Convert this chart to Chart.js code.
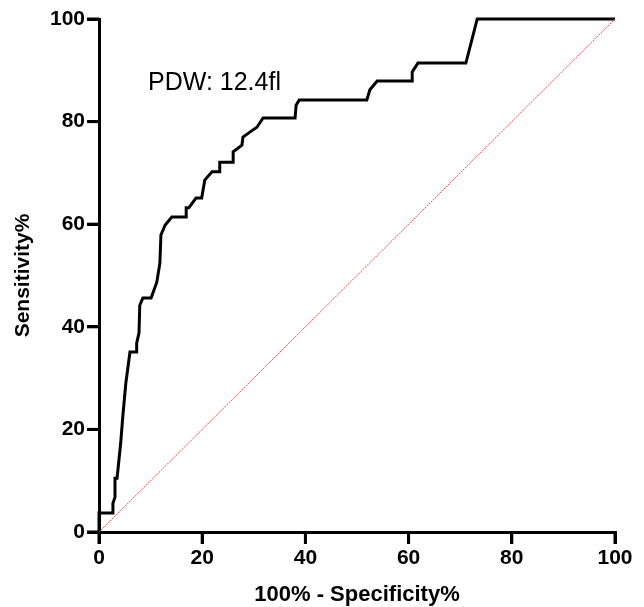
<!DOCTYPE html>
<html>
<head>
<meta charset="utf-8">
<script src="https://cdn.jsdelivr.net/npm/chart.js@4.4.1/dist/chart.umd.min.js"></script>
<style>
  html, body { margin: 0; padding: 0; background: #fff; }
  #roc { display: block; }
</style>
</head>
<body>
<canvas id="roc" width="644" height="607"></canvas>
<script>
// ROC curve (100% - specificity, sensitivity)
const fpr = [0, 0, 2.7, 2.7, 3.1, 3.1, 3.5, 4.2, 4.6, 5.2,
    6.0, 7.3, 7.3, 7.75, 7.9, 8.5, 10.1, 11.2, 11.8, 12.0,
    12.8, 14.1, 16.9, 16.9, 17.4, 18.8, 19.9, 20.5, 21.9, 23.4,
    23.4, 26.0, 26.0, 27.7, 27.9, 29.3, 30.6, 31.8, 38.0, 38.2,
    38.8, 51.9, 52.5, 53.9, 60.7, 60.7, 61.8, 71.1, 73.3, 100];
const sens = [0, 3.7, 3.7, 5.6, 6.8, 10.5, 10.5, 17.3, 22.4, 29.0,
    35.1, 35.1, 36.8, 38.8, 44.2, 45.6, 45.6, 48.7, 52.4, 57.9,
    59.8, 61.4, 61.4, 63.2, 63.2, 65.1, 65.1, 68.6, 70.2, 70.2,
    72.1, 72.1, 74.1, 75.4, 77.0, 78.0, 78.9, 80.7, 80.7, 83.2,
    84.2, 84.2, 86.2, 87.9, 87.9, 89.7, 91.4, 91.4, 100, 100];

// reference line
const refX = [0, 100];
const refY = [0, 100];

const tickVals = [0, 20, 40, 60, 80, 100];
const label = "PDW: 12.4fl";

const FONT = "'Liberation Sans', Arial, Helvetica, sans-serif";
const TICK_LEN = 12;

function toPoints(xs, ys) {
    return xs.map((x, i) => ({ x: x, y: ys[i] }));
}

// text inside the plot
const extrasPlugin = {
    id: "rocExtras",
    afterDraw(chart) {
        const ctx = chart.ctx;
        const xs = chart.scales.x;
        const ys = chart.scales.y;
        ctx.save();
        ctx.fillStyle = "#000";
        ctx.font = "25px " + FONT;
        ctx.textBaseline = "alphabetic";
        ctx.fillText(label, xs.getPixelForValue(9.5), ys.getPixelForValue(86.2));
        ctx.restore();
    }
};

// outward tick marks, drawn last
const tickPlugin = {
    id: "rocTicks",
    afterRender(chart) {
        const ctx = chart.ctx;
        const xs = chart.scales.x;
        const ys = chart.scales.y;
        const a = chart.chartArea;
        ctx.save();
        ctx.beginPath();
        ctx.rect(0, 0, chart.width, chart.height);
        ctx.clip();
        ctx.fillStyle = "#000";
        tickVals.forEach((v) => {
            ctx.fillRect(xs.getPixelForValue(v) - 1.5, a.bottom, 3, TICK_LEN);
            ctx.fillRect(a.left - TICK_LEN, ys.getPixelForValue(v) - 1.5, TICK_LEN, 3);
        });
        ctx.restore();
    }
};

const axisStyle = {
    type: "linear",
    min: 0,
    max: 100,
    grid: {
        display: true,
        drawOnChartArea: false,
        drawTicks: true,
        tickLength: TICK_LEN,
        color: "#000",
        lineWidth: 3
    },
    border: { display: true, color: "#000", width: 3 },
    afterBuildTicks: (scale) => {
        scale.ticks = tickVals.map(v => ({ value: v }));
    }
};

new Chart(document.getElementById("roc"), {
    type: "scatter",
    data: {
        datasets: [{
            data: toPoints(refX, refY),
            showLine: true,
            borderColor: "rgba(240, 50, 50, 0.9)",
            borderWidth: 1,
            borderDash: [2, 1],
            pointRadius: 0,
            clip: false
        }, {
            data: toPoints(fpr, sens),
            showLine: true,
            borderColor: "#000",
            borderWidth: 3,
            borderJoinStyle: "miter",
            pointRadius: 0,
            tension: 0,
            clip: false
        }]
    },
    options: {
        responsive: false,
        animation: false,
        layout: { padding: { top: 19, right: 29, left: 0, bottom: 0 } },
        plugins: {
            legend: { display: false },
            tooltip: { enabled: false }
        },
        scales: {
            x: {
                ...axisStyle,
                afterFit: (scale) => { scale.height = 75; },
                ticks: {
                    color: "#000",
                    padding: 2,
                    maxRotation: 0,
                    font: { family: FONT, size: 21, weight: "bold" }
                },
                title: {
                    display: true,
                    text: "100% - Specificity%",
                    color: "#000",
                    padding: { top: 0, bottom: 0 },
                    font: { family: FONT, size: 22, weight: "bold", lineHeight: 1.1 }
                }
            },
            y: {
                ...axisStyle,
                afterFit: (scale) => { scale.width = 99; },
                ticks: {
                    color: "#000",
                    padding: 2,
                    font: { family: FONT, size: 21, weight: "bold" }
                },
                title: {
                    display: true,
                    text: "Sensitivity%",
                    color: "#000",
                    padding: { top: 11, bottom: 0 },
                    font: { family: FONT, size: 21, weight: "bold" }
                }
            }
        }
    },
    plugins: [extrasPlugin, tickPlugin]
});
</script>
</body>
</html>
